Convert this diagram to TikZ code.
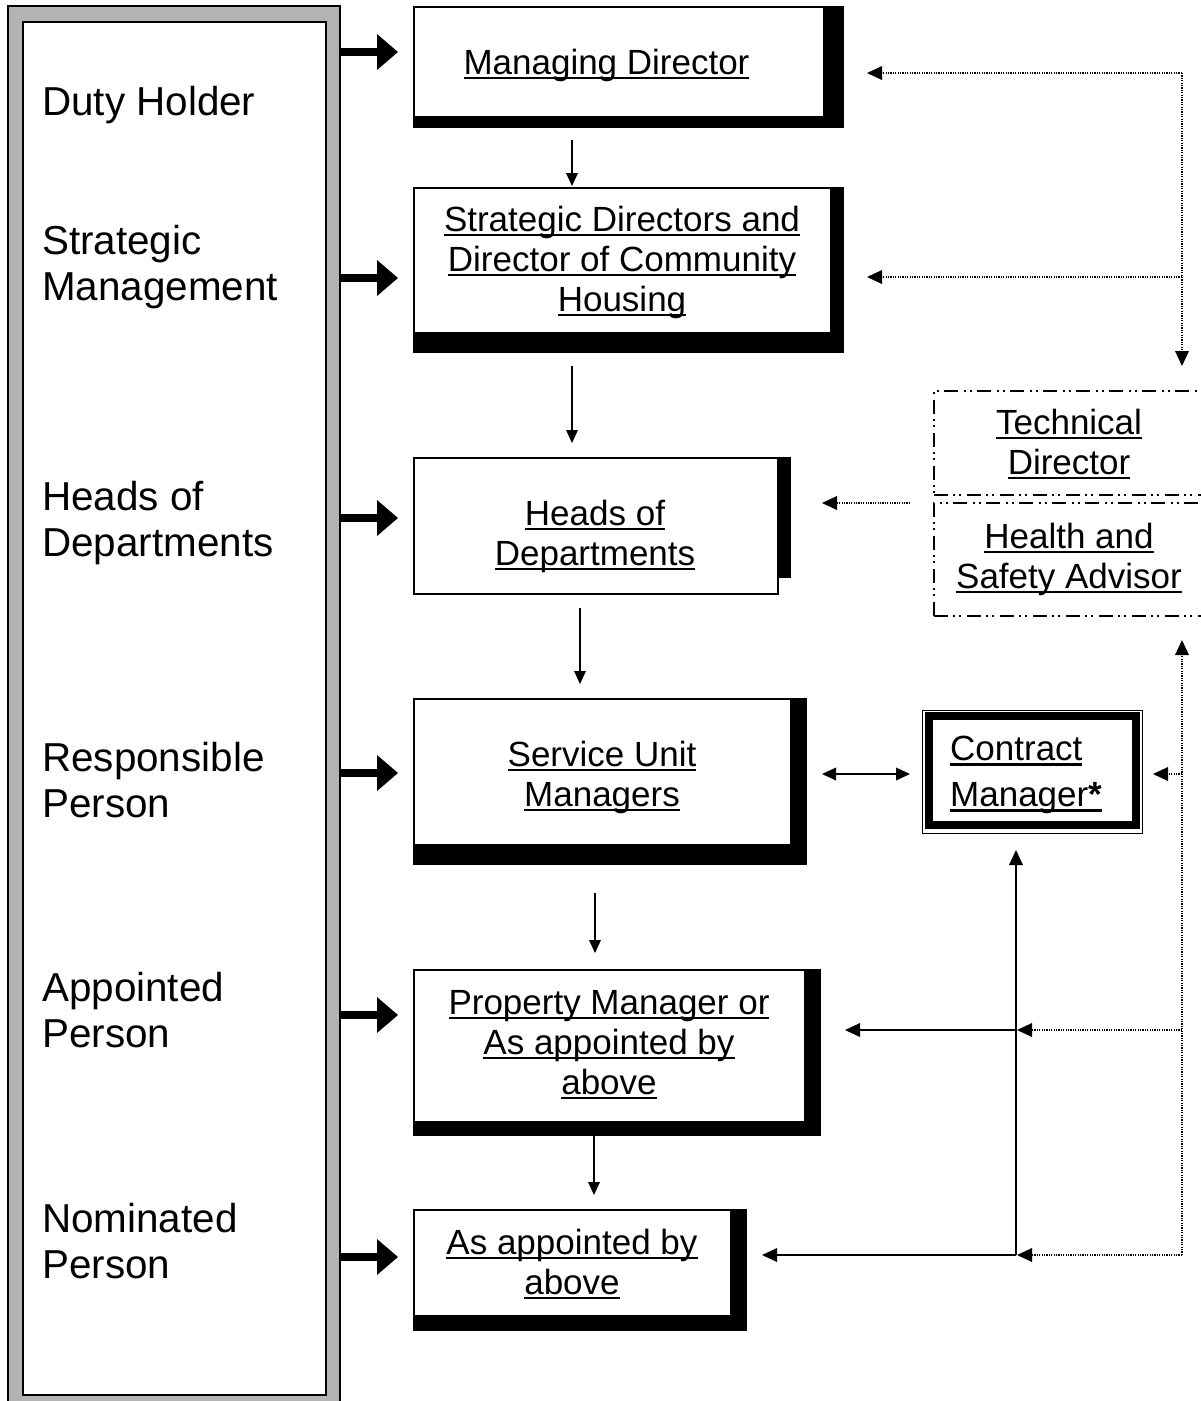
\documentclass[tikz,border=0pt]{standalone}
\usepackage{fontspec}
\setmainfont{Liberation Sans}
\usetikzlibrary{arrows.meta}
\definecolor{bargray}{RGB}{179,179,179}
\newsavebox\ulbox
\newcommand{\ulx}[1]{\sbox\ulbox{#1}\rlap{\rule[-0.143em]{\wd\ulbox}{0.073em}}\usebox\ulbox}
\tikzset{
  whitebox/.style={draw=black, line width=1.5pt, fill=white},
  boxtext/.style={inner sep=0pt, anchor=north, align=center, font=\fontsize{35}{40}\selectfont},
  lefttext/.style={inner sep=0pt, anchor=north west, align=left, font=\fontsize{40.4}{46}\selectfont},
  bigarrow/.style={line width=8pt, -{Triangle[length=21pt,width=36pt,line width=0pt]}},
  thinarrow/.style={line width=1.5pt, -{Triangle[length=13pt,width=12pt,line width=0pt]}},
  sidearrow/.style={line width=1.5pt, -{Triangle[length=15pt,width=14pt,line width=0pt]}},
  dblarrow/.style={line width=1.5pt, {Triangle[length=14pt,width=13pt,line width=0pt]}-{Triangle[length=14pt,width=13pt,line width=0pt]}},
  dotarrow/.style={line width=1.2pt, dash pattern=on 1.2pt off 1.2pt, -{Triangle[length=15pt,width=14pt,line width=0pt]}},
  ddbox/.style={draw=black, line width=2pt, dash pattern=on 14pt off 5pt on 2pt off 4pt on 2pt off 6pt},
}
\begin{document}
\begin{tikzpicture}[x=1pt,y=-1pt]
\useasboundingbox (0,0) rectangle (1201,1401);
\begin{scope}
\clip (0,0) rectangle (1201,1401);
% left bar
\path[draw=black, line width=1.2pt, fill=bargray] (8,6) rectangle (340,1415);
\node[draw=black, line width=2.2pt, fill=white, anchor=north west, minimum width=303pt, minimum height=1373pt, inner sep=0pt] (bar) at (22,21) {};

% left labels
\node[lefttext] (lab1) at (42,82.8) {\strut Duty Holder};
\node[lefttext] (lab2) at (42,221.8) {\strut Strategic\\\strut Management};
\node[lefttext] (lab3) at (42,477.8) {\strut Heads of\\\strut Departments};
\node[lefttext] (lab4) at (42,738.8) {\strut Responsible\\\strut Person};
\node[lefttext] (lab5) at (42,968.8) {\strut Appointed\\\strut Person};
\node[lefttext] (lab6) at (42,1199.8) {\strut Nominated\\\strut Person};

% shadowed boxes
\fill[black] (413,6) rectangle (844,128);
\node[whitebox, anchor=north west, minimum width=410pt, minimum height=110pt, inner sep=0pt] (md) at (413,6) {};
\fill[black] (413,187) rectangle (844,353);
\node[whitebox, anchor=north west, minimum width=417pt, minimum height=145pt, inner sep=0pt] (sd) at (413,187) {};
\fill[black] (413,457) rectangle (791,578);
\node[whitebox, anchor=north west, minimum width=364pt, minimum height=136pt, inner sep=0pt] (hd) at (413,457) {};
\fill[black] (413,698) rectangle (807,865);
\node[whitebox, anchor=north west, minimum width=377pt, minimum height=146pt, inner sep=0pt] (sum) at (413,698) {};
\fill[black] (413,969) rectangle (821,1136);
\node[whitebox, anchor=north west, minimum width=391pt, minimum height=152pt, inner sep=0pt] (pm) at (413,969) {};
\fill[black] (413,1209) rectangle (747,1331);
\node[whitebox, anchor=north west, minimum width=317pt, minimum height=106pt, inner sep=0pt] (aa) at (413,1209) {};

% box texts
\node[boxtext] (mdt) at (606.5,46) {\strut\ulx{Managing Director}};
\node[boxtext] (sdt) at (622,203) {\strut\ulx{Strategic Directors and}\\\strut\ulx{Director of Community}\\\strut\ulx{Housing}};
\node[boxtext] (hdt) at (595,497) {\strut\ulx{Heads of}\\\strut\ulx{Departments}};
\node[boxtext] (sumt) at (602,738) {\strut\ulx{Service Unit}\\\strut\ulx{Managers}};
\node[boxtext] (pmt) at (609,986) {\strut\ulx{Property Manager or}\\\strut\ulx{As appointed by}\\\strut\ulx{above}};
\node[boxtext] (aat) at (572,1226) {\strut\ulx{As appointed by}\\\strut\ulx{above}};

% technical director / H&S
\node[ddbox, anchor=north west, minimum width=290pt, minimum height=104pt, inner sep=0pt] (td) at (933,390) {};
\node[ddbox, anchor=north west, minimum width=290pt, minimum height=113pt, inner sep=0pt] (hs) at (933,502) {};
\node[boxtext] (tdt) at (1069,406) {\strut\ulx{Technical}\\\strut\ulx{Director}};
\node[boxtext] (hst) at (1069,520) {\strut\ulx{Health and}\\\strut\ulx{Safety Advisor}};

% contract manager
\node[draw=black, line width=1.2pt, anchor=north west, minimum width=220pt, minimum height=123pt, inner sep=0pt] (cm) at (921.5,709.5) {};
\draw[line width=8pt] (928.5,715.5) rectangle (1135.5,824.5);
\node[inner sep=0pt, anchor=north west, align=left, font=\fontsize{35}{46}\selectfont] (cmt) at (950,736) {\ulx{Contract}\\\ulx{Manager\textbf{*}}};

% big arrows
\coordinate (b1s) at (340,52);   \coordinate (b1e) at (398,52);
\coordinate (b2s) at (340,278);  \coordinate (b2e) at (398,278);
\coordinate (b3s) at (340,518);  \coordinate (b3e) at (398,518);
\coordinate (b4s) at (340,773);  \coordinate (b4e) at (398,773);
\coordinate (b5s) at (340,1015); \coordinate (b5e) at (398,1015);
\coordinate (b6s) at (340,1257); \coordinate (b6e) at (398,1257);
\foreach \i in {1,...,6} {\draw[bigarrow] (b\i s) -- (b\i e);}

% thin vertical arrows
\coordinate (v1s) at (572,140);  \coordinate (v1e) at (572,186);
\coordinate (v2s) at (572,366);  \coordinate (v2e) at (572,443);
\coordinate (v3s) at (580,608);  \coordinate (v3e) at (580,684);
\coordinate (v4s) at (595,893);  \coordinate (v4e) at (595,953);
\coordinate (v5s) at (594,1136); \coordinate (v5e) at (594,1195);
\foreach \i in {1,...,5} {\draw[thinarrow] (v\i s) -- (v\i e);}

% SUM <-> CM
\coordinate (d1) at (822,774); \coordinate (d2) at (910,774);
\draw[dblarrow] (d1) -- (d2);

% dotted upper right
\coordinate (u0) at (1182,73);
\coordinate (u1) at (867,73);
\coordinate (u2) at (1182,277);
\coordinate (u3) at (867,277);
\coordinate (u4) at (1182,366);
\draw[dotarrow] (u0) -- (u1);
\draw[dotarrow] (u2) -- (u3);
\draw[dotarrow] (u0) -- (u4);
\coordinate (h1) at (910,503); \coordinate (h2) at (822,503);
\draw[dotarrow] (h1) -- (h2);

% dotted lower right
\coordinate (w0) at (1182,1255);
\coordinate (w1) at (1182,640);
\coordinate (w2) at (1182,774);
\coordinate (w3) at (1153,774);
\coordinate (w4) at (1182,1030);
\coordinate (w5) at (1017,1030);
\coordinate (w6) at (1017,1255);
\draw[dotarrow] (w0) -- (w1);
\draw[dotarrow] (w2) -- (w3);
\draw[dotarrow] (w4) -- (w5);
\draw[dotarrow] (w0) -- (w6);

% solid lines from contract manager
\coordinate (s0) at (1016,1255);
\coordinate (s1) at (1016,850);
\coordinate (s2) at (1016,1030);
\coordinate (s3) at (845,1030);
\coordinate (s4) at (762,1255);
\draw[sidearrow] (s0) -- (s1);
\draw[sidearrow] (s2) -- (s3);
\draw[sidearrow] (s0) -- (s4);
\end{scope}
\end{tikzpicture}
\end{document}
